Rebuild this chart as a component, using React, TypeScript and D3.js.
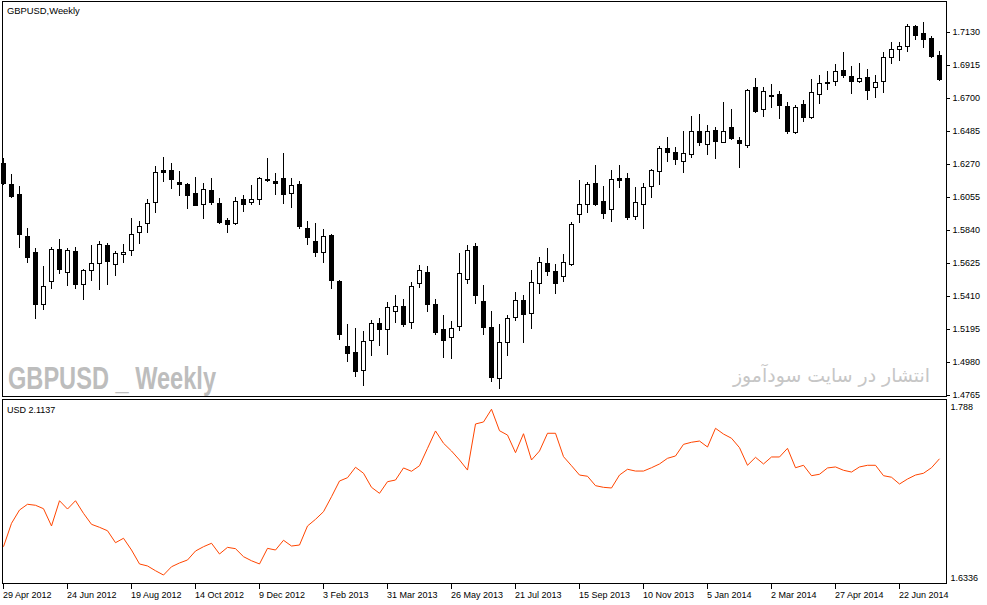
import * as d3 from "d3";

// GBPUSD weekly bars, 29 Apr 2012 .. 27 Jul 2014
const opens = [
  1.6276, 1.6139, 1.6074, 1.5801, 1.5696, 1.5357, 1.5507, 1.5716, 1.5566, 1.5703,
  1.5488, 1.5579, 1.5625, 1.5742, 1.5618, 1.5683, 1.5709, 1.5827, 1.5885, 1.6022,
  1.623, 1.623, 1.6152, 1.6139, 1.6081, 1.6009, 1.61, 1.6016, 1.5905, 1.5885,
  1.6042, 1.6022, 1.6042, 1.6165, 1.6159, 1.6178, 1.6081, 1.6139, 1.5853, 1.5768,
  1.5696, 1.5807, 1.5507, 1.5084, 1.5045, 1.4927, 1.5123, 1.5234, 1.5195, 1.5312,
  1.5344, 1.524, 1.5494, 1.5566, 1.5357, 1.5195, 1.5142, 1.5214, 1.552, 1.5735,
  1.5377, 1.5208, 1.4875, 1.511, 1.5273, 1.5384, 1.5299, 1.5494, 1.5625, 1.5572,
  1.554, 1.5618, 1.5944, 1.6009, 1.6146, 1.6029, 1.5976, 1.6178, 1.6178, 1.5931,
  1.6009, 1.6126, 1.6224, 1.6374, 1.6348, 1.6289, 1.6335, 1.6485, 1.64, 1.6491,
  1.6413, 1.6511, 1.6426, 1.6393, 1.6771, 1.6628, 1.6713, 1.6726, 1.6647, 1.6478,
  1.666, 1.6576, 1.6726, 1.6804, 1.681, 1.6882, 1.6843, 1.681, 1.6836, 1.6771,
  1.681, 1.6967, 1.7019, 1.7038, 1.7169, 1.7123, 1.709, 1.698,
];
const highs = [
  1.6309, 1.6204, 1.6126, 1.5853, 1.5722, 1.5605, 1.5729, 1.5781, 1.5722, 1.5729,
  1.5585, 1.5742, 1.5768, 1.5755, 1.5703, 1.5748, 1.5918, 1.5898, 1.6042, 1.6257,
  1.6315, 1.6276, 1.6224, 1.6146, 1.6185, 1.6146, 1.6178, 1.6048, 1.5918, 1.6055,
  1.6068, 1.6133, 1.6185, 1.6309, 1.6211, 1.6341, 1.6178, 1.6159, 1.5898, 1.5885,
  1.5846, 1.5814, 1.5514, 1.5227, 1.5201, 1.5182, 1.5253, 1.5266, 1.537, 1.5416,
  1.539, 1.5501, 1.5612, 1.5605, 1.539, 1.5286, 1.5247, 1.569, 1.5742, 1.5755,
  1.5481, 1.5312, 1.5227, 1.5286, 1.5436, 1.5416, 1.5579, 1.5664, 1.5722, 1.5618,
  1.5683, 1.5892, 1.6165, 1.6152, 1.6263, 1.6126, 1.623, 1.6263, 1.6211, 1.612,
  1.6146, 1.6237, 1.6387, 1.6445, 1.638, 1.6485, 1.6582, 1.6595, 1.6524, 1.6511,
  1.6674, 1.6628, 1.6445, 1.6758, 1.683, 1.6771, 1.6791, 1.6745, 1.6674, 1.6654,
  1.6687, 1.6823, 1.6849, 1.6875, 1.6921, 1.6999, 1.6908, 1.6928, 1.6888, 1.6849,
  1.6999, 1.7064, 1.7064, 1.7182, 1.7175, 1.7195, 1.7104, 1.7006,
];
const lows = [
  1.6139, 1.6055, 1.5729, 1.5631, 1.5266, 1.5325, 1.5462, 1.5559, 1.5481, 1.5462,
  1.539, 1.5514, 1.5455, 1.5488, 1.5546, 1.5631, 1.5677, 1.5755, 1.5827, 1.5957,
  1.6159, 1.6113, 1.6068, 1.5983, 1.5998, 1.5918, 1.6009, 1.5885, 1.5827, 1.5879,
  1.5963, 1.6009, 1.6009, 1.6159, 1.6074, 1.6016, 1.5989, 1.5853, 1.5748, 1.567,
  1.5631, 1.5462, 1.5129, 1.4986, 1.4888, 1.483, 1.5025, 1.509, 1.5032, 1.524,
  1.5214, 1.5201, 1.5468, 1.5312, 1.5162, 1.5012, 1.5006, 1.5188, 1.5494, 1.5364,
  1.5162, 1.4856, 1.481, 1.5025, 1.5253, 1.511, 1.5201, 1.5429, 1.5546, 1.5429,
  1.5507, 1.5612, 1.5892, 1.5957, 1.6003, 1.5918, 1.5898, 1.612, 1.5911, 1.5911,
  1.5853, 1.6055, 1.6139, 1.6289, 1.627, 1.6217, 1.6315, 1.6393, 1.6335, 1.6309,
  1.6413, 1.6432, 1.625, 1.638, 1.6608, 1.6582, 1.6641, 1.6569, 1.6472, 1.6472,
  1.655, 1.6569, 1.6667, 1.6758, 1.6784, 1.6836, 1.6732, 1.6804, 1.6693, 1.6706,
  1.6739, 1.6928, 1.6947, 1.7006, 1.7084, 1.7032, 1.6967, 1.6817,
];
const closes = [
  1.6146, 1.6061, 1.5814, 1.5664, 1.5357, 1.5475, 1.5716, 1.5585, 1.5709, 1.5488,
  1.5579, 1.5625, 1.5748, 1.5638, 1.569, 1.5696, 1.5814, 1.5866, 1.6016, 1.6217,
  1.6217, 1.6172, 1.6139, 1.6068, 1.6002, 1.6107, 1.6022, 1.5892, 1.5879, 1.6029,
  1.6009, 1.6042, 1.6178, 1.6172, 1.6146, 1.6074, 1.6133, 1.5866, 1.5794, 1.5696,
  1.5801, 1.5514, 1.5162, 1.5038, 1.4921, 1.5116, 1.5234, 1.5195, 1.5338, 1.5344,
  1.5227, 1.5475, 1.5579, 1.5357, 1.5175, 1.5123, 1.5201, 1.5559, 1.5709, 1.5416,
  1.5208, 1.4882, 1.511, 1.5266, 1.5384, 1.5292, 1.5501, 1.5631, 1.5572, 1.5494,
  1.5631, 1.5879, 1.6009, 1.6139, 1.6009, 1.595, 1.6172, 1.6165, 1.5924, 1.6022,
  1.612, 1.623, 1.6374, 1.6348, 1.6302, 1.6341, 1.6485, 1.6413, 1.6485, 1.6419,
  1.6485, 1.6439, 1.6406, 1.6752, 1.6615, 1.6745, 1.6719, 1.6654, 1.6485, 1.6641,
  1.6576, 1.6739, 1.6797, 1.6797, 1.6875, 1.6849, 1.681, 1.683, 1.6752, 1.6804,
  1.6967, 1.7019, 1.7038, 1.7169, 1.711, 1.7084, 1.6973, 1.6823,
];

// USD index line (lower window)
const usd = [
  1.6616, 1.6827, 1.6947, 1.6999, 1.699, 1.6959, 1.6803, 1.7031, 1.6956, 1.7031,
  1.6917, 1.6818, 1.6791, 1.676, 1.6652, 1.6692, 1.6586, 1.646, 1.6442, 1.6399,
  1.636, 1.6435, 1.6469, 1.6496, 1.6577, 1.6616, 1.6647, 1.655, 1.661, 1.6598,
  1.6526, 1.6489, 1.646, 1.6601, 1.6586, 1.6674, 1.6622, 1.6631, 1.6803, 1.6863,
  1.6932, 1.7067, 1.7209, 1.7239, 1.7333, 1.7279, 1.7152, 1.7098, 1.7203, 1.7218,
  1.7327, 1.7297, 1.7347, 1.7504, 1.7661, 1.755, 1.748, 1.7399, 1.7308, 1.7724,
  1.7742, 1.7857, 1.7663, 1.7624, 1.7465, 1.7636, 1.7399, 1.748, 1.764, 1.764,
  1.7429, 1.7347, 1.7263, 1.7252, 1.7167, 1.7152, 1.7146, 1.7263, 1.7315, 1.7299,
  1.7299, 1.7329, 1.7363, 1.7414, 1.7435, 1.754, 1.7559, 1.757, 1.7516, 1.7685,
  1.7633, 1.7595, 1.751, 1.7351, 1.7423, 1.7363, 1.7426, 1.7426, 1.7504, 1.7329,
  1.7351, 1.7257, 1.727, 1.7327, 1.7336, 1.7306, 1.729, 1.7336, 1.7351, 1.7351,
  1.7257, 1.7243, 1.7182, 1.7227, 1.7263, 1.7279, 1.7329, 1.741,
];

const priceTicks = [1.713, 1.6915, 1.67, 1.6485, 1.627, 1.6055, 1.584, 1.5625, 1.541, 1.5195, 1.498, 1.4765];
const usdTicks = [1.788, 1.6336];
const dateTickBars = [0, 8, 16, 24, 32, 40, 48, 56, 64, 72, 80, 88, 96, 104, 112];
const dateTickLabels = [
  "29 Apr 2012", "24 Jun 2012", "19 Aug 2012", "14 Oct 2012", "9 Dec 2012",
  "3 Feb 2013", "31 Mar 2013", "26 May 2013", "21 Jul 2013", "15 Sep 2013",
  "10 Nov 2013", "5 Jan 2014", "2 Mar 2014", "27 Apr 2014", "22 Jun 2014",
];

const W = 987;
const H = 605;
const FONT = "'Liberation Sans', Arial, sans-serif";

export default function App() {
  const n = closes.length;
  const x = d3.scaleLinear().domain([0, n - 1]).range([3.5, 3.5 + 8 * (n - 1)]);
  const y = d3.scaleLinear().domain([1.4765, 1.713]).range([394.7, 31.7]);
  const y2 = d3.scaleLinear().domain([1.6336, 1.788]).range([577.7, 406.7]);
  const snap = (v: number) => Math.round(v) + 0.5;

  const usdLine = d3
    .line<number>()
    .x((_, i) => x(i))
    .y((d) => y2(d));

  const bars = d3.range(n);

  return (
    <svg
      width={W}
      height={H}
      style={{ position: "absolute", left: 0, top: 0, background: "#fff" }}
      fontFamily={FONT}
    >
      <rect x={0} y={0} width={W} height={H} fill="#fff" />

      {/* watermarks */}
      <text
        x={8}
        y={388.5}
        fontFamily="'Liberation Sans Narrow', 'Liberation Sans', Arial, sans-serif"
        fontWeight="bold"
        fontSize={31}
        fill="#bdbdbd"
        textLength={208}
        lengthAdjust="spacingAndGlyphs"
      >
        GBPUSD _ Weekly
      </text>
      <text
        x={733}
        y={382}
        fontFamily="'DejaVu Sans', sans-serif"
        fontSize={19}
        fill="#c6c6c6"
        textLength={197}
        lengthAdjust="spacingAndGlyphs"
      >
        انتشار در سایت سودآموز
      </text>

      {/* candles */}
      <g shapeRendering="crispEdges">
        {bars.map((i) => {
          const cx = x(i);
          const o = opens[i];
          const c = closes[i];
          const up = c >= o;
          const top = snap(y(Math.max(o, c)));
          const bot = snap(y(Math.min(o, c)));
          return (
            <g key={i}>
              <line x1={cx} x2={cx} y1={snap(y(highs[i])) - 0.5} y2={snap(y(lows[i])) + 0.5} stroke="#000" />
              <rect
                x={cx - 2}
                y={top}
                width={4}
                height={Math.max(0, bot - top)}
                fill={up ? "#fff" : "#000"}
                stroke="#000"
              />
            </g>
          );
        })}
      </g>

      {/* USD line */}
      <path d={usdLine(usd) ?? ""} fill="none" stroke="#ff4500" strokeWidth={1} />

      {/* frames */}
      <g fill="none" stroke="#000" shapeRendering="crispEdges">
        <rect x={2.5} y={1.5} width={944} height={395} />
        <rect x={2.5} y={399.5} width={944} height={184} />
      </g>

      {/* price axis */}
      <g fontSize={9} fill="#000">
        {priceTicks.map((t) => (
          <g key={t}>
            <line x1={947} x2={950} y1={snap(y(t))} y2={snap(y(t))} stroke="#000" shapeRendering="crispEdges" />
            <text x={952.5} y={y(t) + 3.5}>{d3.format(".4f")(t)}</text>
          </g>
        ))}
        {usdTicks.map((t, i) => (
          <text key={t} x={950.5} y={y2(t) + 3.5}>{i === 0 ? d3.format(".3f")(t) : d3.format(".4f")(t)}</text>
        ))}
      </g>

      {/* date axis */}
      <g fontSize={9} fill="#000">
        {dateTickBars.map((b, i) => (
          <g key={b}>
            <line x1={x(b)} x2={x(b)} y1={584} y2={589} stroke="#000" shapeRendering="crispEdges" />
            <text x={x(b) - 0.5} y={597.5}>{dateTickLabels[i]}</text>
          </g>
        ))}
      </g>

      {/* titles */}
      <text x={7} y={14.3} fontSize={9.4} fill="#000">GBPUSD,Weekly</text>
      <text x={7} y={412.5} fontSize={9} fill="#000">USD 2.1137</text>
    </svg>
  );
}
